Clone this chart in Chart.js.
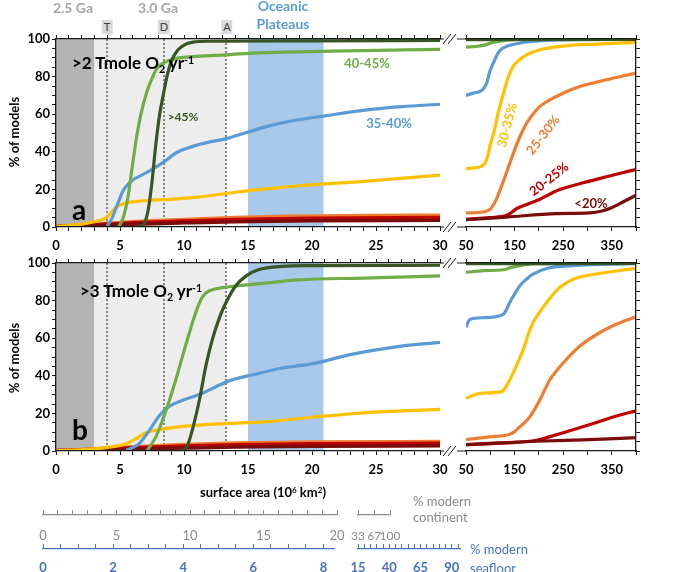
<!DOCTYPE html>
<html>
<head>
<meta charset="utf-8">
<script src="https://cdn.jsdelivr.net/npm/chart.js@4.4.1/dist/chart.umd.min.js"></script>
<style>
  body { margin: 0; background: #fff; width: 685px; height: 572px; position: relative; overflow: hidden; font-family: Lato, sans-serif; }
  canvas { position: absolute; }
  .t { position: absolute; white-space: nowrap; transform: translate(-50%, -50%); font-weight: bold; line-height: 1; }
  .box { position: absolute; transform: translate(-50%, -50%); background: #d9d9d9; color: #404040; font-size: 11px; padding: 1px 2px; line-height: 1.1; }
  .sub { font-size: 0.62em; position: relative; top: 0.35em; }
  .sup { font-size: 0.62em; position: relative; top: -0.5em; }
</style>
</head>
<body>
<canvas id="aL" width="470" height="262" style="left:0;top:0"></canvas>
<canvas id="aR" width="205" height="262" style="left:450px;top:0"></canvas>
<canvas id="bL" width="470" height="235" style="left:0;top:253px"></canvas>
<canvas id="bR" width="205" height="235" style="left:450px;top:253px"></canvas>
<canvas id="s1" width="320" height="45" style="left:30px;top:500px"></canvas>
<canvas id="s2" width="60" height="45" style="left:345px;top:500px"></canvas>
<canvas id="s3" width="320" height="45" style="left:30px;top:534px"></canvas>
<canvas id="s4" width="130" height="45" style="left:345px;top:534px"></canvas>

<div class="t" style="left:73px;top:8px;font-size:14px;color:#a6a6a6">2.5 Ga</div>
<div class="t" style="left:158px;top:8px;font-size:14px;color:#a6a6a6">3.0 Ga</div>
<div class="t" style="left:283px;top:15px;font-size:14px;color:#5b9bd5;text-align:center;line-height:18px">Oceanic<br>Plateaus</div>
<div class="box" style="left:107px;top:27px">T</div>
<div class="box" style="left:164px;top:27px">D</div>
<div class="box" style="left:227px;top:27px">A</div>

<div class="t" style="left:133px;top:62px;font-size:17px">&gt;2 Tmole O<span class="sub">2</span> yr<span class="sup">-1</span></div>
<div class="t" style="left:79px;top:209px;font-size:28px">a</div>
<div class="t" style="left:183px;top:117px;font-size:12px;color:#375623">&gt;45%</div>
<div class="t" style="left:367px;top:63px;font-size:13px;color:#70ad47">40-45%</div>
<div class="t" style="left:389px;top:123px;font-size:13px;color:#5b9bd5">35-40%</div>
<div class="t" style="left:507px;top:125px;font-size:13px;color:#ffc000;transform:translate(-50%,-50%) rotate(-75deg)">30-35%</div>
<div class="t" style="left:543px;top:135px;font-size:13px;color:#ed7d31;transform:translate(-50%,-50%) rotate(-52deg)">25-30%</div>
<div class="t" style="left:549px;top:179px;font-size:13px;color:#c00000;transform:translate(-50%,-50%) rotate(-38deg)">20-25%</div>
<div class="t" style="left:591px;top:203px;font-size:13px;color:#7b0c0c">&lt;20%</div>
<div class="t" style="left:14px;top:132px;font-size:13px;transform:translate(-50%,-50%) rotate(-90deg)">% of models</div>

<div class="t" style="left:141px;top:290px;font-size:17px">&gt;3 Tmole O<span class="sub">2</span> yr<span class="sup">-1</span></div>
<div class="t" style="left:80px;top:429px;font-size:28px">b</div>
<div class="t" style="left:14px;top:358px;font-size:13px;transform:translate(-50%,-50%) rotate(-90deg)">% of models</div>

<div class="t" style="left:263px;top:492px;font-size:13px">surface area (10<span class="sup">6</span> km<span class="sup">2</span>)</div>
<div style="position:absolute;left:413px;top:493px;font-size:13px;color:#8c8c8c;line-height:16px">% modern<br>continent</div>
<div style="position:absolute;left:470px;top:540px;font-size:13px;color:#4472c4;line-height:19px">% modern<br>seafloor</div>

<script>
// series colours
const C = { dkgreen: '#375623', green: '#70ad47', blue: '#5b9bd5', yellow: '#ffc000', orange: '#ed7d31', red: '#c00000', dkred: '#7b0c0c' };

// tick labels
const leftXLabels = [0, 5, 10, 15, 20, 25, 30];
const rightXLabels = [50, 150, 250, 350];
const yLabels = [0, 20, 40, 60, 80, 100];
const contLabels = [0, 5, 10, 15, 20];
const contPctLabels = [33, 67, 100];
const seaLabels = [0, 2, 4, 6, 8];
const seaPctLabels = [15, 40, 65, 90];

// shaded periods and crust markers (10^6 km2)
const bands = [[0, 3, '#b3b3b3'], [3, 13.3, '#ededed'], [15, 20.9, '#a9c9ea']];
const markers = [4, 8.4, 13.3];

// panel a, 0-30
const aL_dkgreen = [[6.4,0],[6.9,2],[7.2,9],[7.5,24],[7.8,44],[8.1,60],[8.4,71],[8.7,81],[9.0,88],[9.5,94],[10,96.8],[10.7,98.3],[12,98.8],[20,99],[30,99.2]];
const aL_green = [[4.9,0],[5.3,6],[5.6,15],[6.0,34],[6.3,48],[6.6,59],[7.1,72],[7.5,79],[7.9,84.5],[8.6,88],[9.5,89.8],[10.2,90.4],[13.3,91.6],[15,92.4],[18,93],[21.7,93.6],[30,94.5]];
const aL_blue = [[4.0,0.5],[4.4,5],[4.8,12],[5.3,20],[5.9,24.5],[7.1,29],[8.4,34.5],[9.4,39.5],[11.25,44],[13.3,47],[15,50.5],[16.5,53.5],[18.5,56.5],[20.9,59],[24.3,62.3],[27,64],[30,65.3]];
const aL_yellow = [[0,0.3],[2,1.5],[3,2.8],[3.9,4.8],[4.3,7.5],[4.7,10.5],[5.3,12.5],[6.5,13.8],[7.5,14.3],[9.2,14.8],[11.25,16],[13.3,17.8],[15.4,19.6],[19,21.9],[24.3,24.4],[30,27.6]];
const aL_orange = [[0,0.4],[3,1.5],[6,2.8],[10,4],[14,5],[18,5.7],[24,6.1],[30,6.3]];
const aL_red = [[0,0.3],[3,1.2],[6,2.2],[10,3.2],[14,4],[20,4.6],[30,5]];
const aL_dkred = [[0,0.2],[3,0.8],[6,1.5],[10,2.2],[14,2.8],[20,3.3],[30,3.6]];

// panel a, 50-400
const aR_dkgreen = [[50,99.6],[400,99.8]];
const aR_green = [[50,95.7],[70,96],[85.6,96.6],[106,98.2],[133.6,99.4],[160,99.8],[400,99.8]];
const aR_blue = [[50,70],[65,71.2],[80,72.3],[86,73.5],[92.5,76.5],[99,82.7],[106,87],[116,92.5],[123,94.7],[137,96.4],[160,97.8],[175,98.4],[236,99.5],[400,99.8]];
const aR_yellow = [[50,31],[70,31.5],[79,32],[89,34],[95,38],[99,42.7],[108,51],[116,60.5],[127,71],[134,77.4],[147,85.4],[160,89],[175,91.6],[202,94.3],[257,96.4],[320,97.3],[400,98.2]];
const aR_orange = [[50,7.5],[85.6,8],[100,9.5],[106,11.6],[113,15],[120,19.6],[130,26.5],[140,33.8],[150,41],[161,48],[171,53.5],[181.5,57.8],[202,64],[236,69.4],[284,74.7],[339,78.3],[400,81.9]];
const aR_red = [[50,4.1],[99,5],[133.6,6.2],[145,8],[154,9.8],[175,12],[202,14.8],[243,19.9],[291,23.5],[339,26.7],[370,28.7],[400,30.6]];
const aR_dkred = [[50,3.9],[133.6,5.3],[236,7.1],[305,7.5],[330,8.5],[346,9.8],[360,11.5],[373,13.3],[400,16.9]];

// panel b, 0-30
const bL_dkgreen = [[9.9,0],[10.2,2],[10.5,7.5],[11.2,27],[11.7,45],[12.2,59],[12.8,71.5],[13.2,77.8],[14,87.5],[14.8,92.9],[15.8,96.4],[17.6,98.2],[20,98.6],[30,98.8]];
const bL_green = [[7.1,0],[7.3,2],[7.8,7.5],[8.6,21.7],[9.35,37.7],[10.1,55.5],[10.9,73.3],[11.4,81.5],[11.8,84.5],[12.2,85.8],[13.7,87.5],[16.3,89.3],[18.9,91],[24.1,92],[30,93.2]];
const bL_blue = [[5.5,0.5],[5.9,1.5],[6.5,3.9],[7.3,11],[8.1,19],[8.8,23.5],[9.9,27],[11.4,30.6],[12.5,34.2],[13.7,37.7],[15.3,40.4],[17.6,44],[20.2,46.6],[22.8,51],[26.7,55.5],[30,57.8]];
const bL_yellow = [[0,0.2],[2.1,0.7],[3.9,1.8],[5.5,3.9],[6.25,6.6],[7,9.6],[8.1,11.4],[10.1,13.2],[13.2,14.6],[16.3,15.5],[20.2,18.1],[24.1,20.3],[30,22.1]];
const bL_orange = [[0,0.3],[3,1.2],[6,2.3],[10,3.4],[14,4.2],[20,4.8],[30,5.0]];
const bL_red = [[0,0.2],[3,0.9],[6,1.7],[10,2.6],[14,3.3],[20,3.8],[30,4.1]];
const bL_dkred = [[0,0.1],[3,0.5],[6,1.0],[10,1.6],[14,2.1],[20,2.5],[30,2.8]];

// panel b, 50-400
const bR_dkgreen = [[50,99.6],[400,99.8]];
const bR_green = [[50,95],[85.6,95.9],[126.7,96.4],[140,97.4],[154,98.2],[175,99.2],[195,99.6],[400,99.8]];
const bR_blue = [[50,66],[58,70],[85.6,70.9],[126.7,72.7],[133,75],[140,79],[150,83.5],[161,87.9],[175,91.5],[188,94.1],[216,97.1],[270.6,98.6],[400,99.6]];
const bR_yellow = [[50,28],[78.8,30.7],[123,31.6],[132,34],[140,37.9],[150,43],[160,49],[168,53.9],[178,62],[188,68.2],[202,74],[216,79],[230,83.5],[243,87],[257,89.5],[270.6,91.4],[305,93.6],[353,95.5],[400,97.1]];
const bR_orange = [[50,6.1],[99,7.5],[140,8.9],[150,10.3],[161,12.9],[172,15.5],[181.5,18.2],[192,22.5],[202,27.1],[212,32.5],[222.6,37.9],[236,42.5],[250,46.8],[284,55.7],[325,62.9],[366.5,68.2],[400,71.4]];
const bR_red = [[50,3.4],[133.6,4.3],[195,5.7],[225,7.8],[257,10.2],[312,14.6],[360,18.6],[400,21.4]];
const bR_dkred = [[50,3.4],[195,5.2],[305,6.1],[400,7.1]];

Chart.defaults.font.family = 'Lato';
Chart.defaults.animation = false;
Chart.defaults.events = [];

const ink = '#1a1a1a';
const tickFont = { family: 'Lato', weight: 'bold', size: 13 };
const r2 = v => Math.round(v * 100) / 100;

// tick positions for the secondary scales
function steps(from, to, by) {
  const out = [];
  for (let v = from; v <= to + 1e-9; v += by) out.push(r2(v));
  return out;
}

// shaded periods, dotted markers and axis breaks
const backdrop = {
  id: 'backdrop',
  beforeDraw(chart, args, o) {
    if (!o.bands) return;
    const { ctx, chartArea: a, scales: { x } } = chart;
    ctx.save();
    o.bands.forEach(([from, to, color]) => {
      const x0 = x.getPixelForValue(from), x1 = x.getPixelForValue(to);
      ctx.fillStyle = color;
      ctx.fillRect(x0, a.top, x1 - x0, a.bottom - a.top);
    });
    ctx.strokeStyle = '#808080';
    ctx.lineWidth = 2;
    ctx.setLineDash([2, 2]);
    o.marks.forEach(v => {
      const px = Math.round(x.getPixelForValue(v));
      ctx.beginPath();
      ctx.moveTo(px, a.top);
      ctx.lineTo(px, a.bottom);
      ctx.stroke();
    });
    ctx.restore();
  },
  afterDraw(chart, args, o) {
    if (!o.breaks) return;
    const { ctx, chartArea: a } = chart;
    ctx.save();
    ctx.strokeStyle = ink;
    ctx.lineWidth = 1;
    [a.top, a.bottom].forEach(y => {
      ctx.beginPath();
      ctx.moveTo(a.right, y); ctx.lineTo(a.right + 4, y);
      ctx.moveTo(a.right + 17, y); ctx.lineTo(a.right + 26, y);
      ctx.moveTo(a.right + 3, y + 5); ctx.lineTo(a.right + 11, y - 5);
      ctx.moveTo(a.right + 8, y + 5); ctx.lineTo(a.right + 16, y - 5);
      ctx.stroke();
    });
    ctx.restore();
  }
};

function series(sets) {
  return sets.map(([pts, color, w]) => ({
    data: pts.map(([x, y]) => ({ x, y })),
    borderColor: color,
    borderWidth: w || 3.2,
    pointRadius: 0,
    cubicInterpolationMode: 'monotone',
    xAxisID: 'x', yAxisID: 'y'
  }));
}

function xAxis(min, max, step, labels, pos, h, pad) {
  return {
    type: 'linear', position: pos, min, max,
    afterFit: s => { s.height = h; },
    ticks: {
      stepSize: step, autoSkip: false, maxRotation: 0, padding: pad, color: '#000', font: tickFont,
      callback: v => (pos === 'bottom' && labels.includes(r2(v))) ? r2(v) : ''
    },
    grid: { drawOnChartArea: false, tickLength: 4, color: ink },
    border: { color: ink, width: 1.3, z: 1 }
  };
}

function panel(id, sets, left, topH, botH) {
  const xs = left ? [0, 30, 1, leftXLabels] : [50, 400, 50, rightXLabels];
  const y = left ? {
    position: 'left', min: 0, max: 100,
    afterFit: s => { s.width = 56; },
    ticks: { stepSize: 5, autoSkip: false, padding: 2, color: '#000', font: tickFont, callback: v => yLabels.includes(v) ? v : '' },
    grid: { drawOnChartArea: false, tickLength: 4, color: ink },
    border: { color: ink, width: 1.3, z: 1 }
  } : {
    position: 'right', min: 0, max: 100,
    afterFit: s => { s.width = 19; },
    ticks: { stepSize: 5, autoSkip: false, padding: 0, callback: () => '' },
    grid: { drawOnChartArea: false, tickLength: 4, color: ink },
    border: { color: ink, width: 1.3, z: 1 }
  };
  new Chart(document.getElementById(id), {
    type: 'line',
    data: { datasets: series(sets) },
    options: {
      responsive: false,
      layout: { padding: left ? { left: 0, right: 30, top: 0, bottom: 0 } : { left: 16, right: 0, top: 0, bottom: 0 } },
      scales: {
        x: xAxis(xs[0], xs[1], xs[2], xs[3], 'bottom', botH, 7),
        xt: xAxis(xs[0], xs[1], xs[2], xs[3], 'top', topH, 0),
        y
      },
      plugins: {
        legend: { display: false },
        tooltip: { enabled: false },
        backdrop: left ? { bands, marks: markers, breaks: true } : {}
      }
    },
    plugins: [backdrop]
  });
}

panel('aL', [[aL_dkgreen, C.dkgreen], [aL_green, C.green], [aL_blue, C.blue], [aL_yellow, C.yellow],
  [aL_dkred, C.dkred, 3.5], [aL_red, C.red, 3.5], [aL_orange, C.orange, 3.5]], true, 39, 35);
panel('aR', [[aR_dkgreen, C.dkgreen], [aR_blue, C.blue], [aR_green, C.green], [aR_yellow, C.yellow],
  [aR_dkred, C.dkred], [aR_red, C.red], [aR_orange, C.orange]], false, 39, 35);
panel('bL', [[bL_dkgreen, C.dkgreen], [bL_green, C.green], [bL_blue, C.blue], [bL_yellow, C.yellow],
  [bL_dkred, C.dkred, 3.5], [bL_red, C.red, 3.5], [bL_orange, C.orange, 3.5]], true, 10, 37);
panel('bR', [[bR_dkgreen, C.dkgreen], [bR_blue, C.blue], [bR_green, C.green], [bR_yellow, C.yellow],
  [bR_dkred, C.dkred], [bR_red, C.red], [bR_orange, C.orange]], false, 10, 37);

// secondary scales under the plot: upward ticks are grid lines in a 5px chart area,
// labels are pushed down by an invisible tick length
function scaleBar(id, min, max, tickVals, labels, color, font, padL, padR, drop) {
  new Chart(document.getElementById(id), {
    type: 'line',
    data: { datasets: [] },
    options: {
      responsive: false,
      layout: { padding: { left: padL, right: padR, top: 10, bottom: 0 } },
      scales: {
        x: {
          type: 'linear', position: 'bottom', min, max,
          afterFit: s => { s.height = 30; },
          afterBuildTicks: s => { s.ticks = tickVals.map(v => ({ value: v })); },
          ticks: {
            autoSkip: false, maxRotation: 0, padding: 0, color,
            font: Object.assign({ family: 'Lato' }, font),
            callback: v => labels.includes(r2(v)) ? r2(v) : ''
          },
          grid: { drawTicks: true, tickLength: drop, tickColor: 'rgba(0,0,0,0)', color, lineWidth: 1 },
          border: { color, width: 1.3 }
        },
        y: { display: false }
      },
      plugins: { legend: { display: false }, tooltip: { enabled: false } }
    }
  });
}

scaleBar('s1', 0, 20, steps(0, 20, 1), contLabels, '#8c8c8c', { size: 13 }, 13, 13, 13.5);
scaleBar('s2', 33, 100, contPctLabels, contPctLabels, '#8c8c8c', { size: 12 }, 13, 15, 13.5);
scaleBar('s3', 0, 8.3, steps(0, 8, 0.5), seaLabels, '#4472c4', { size: 13, weight: 'bold' }, 13, 16, 11.5);
scaleBar('s4', 15, 96.5, steps(15, 95, 5), seaPctLabels, '#4472c4', { size: 13, weight: 'bold' }, 13, 15, 11.5);
</script>
</body>
</html>
